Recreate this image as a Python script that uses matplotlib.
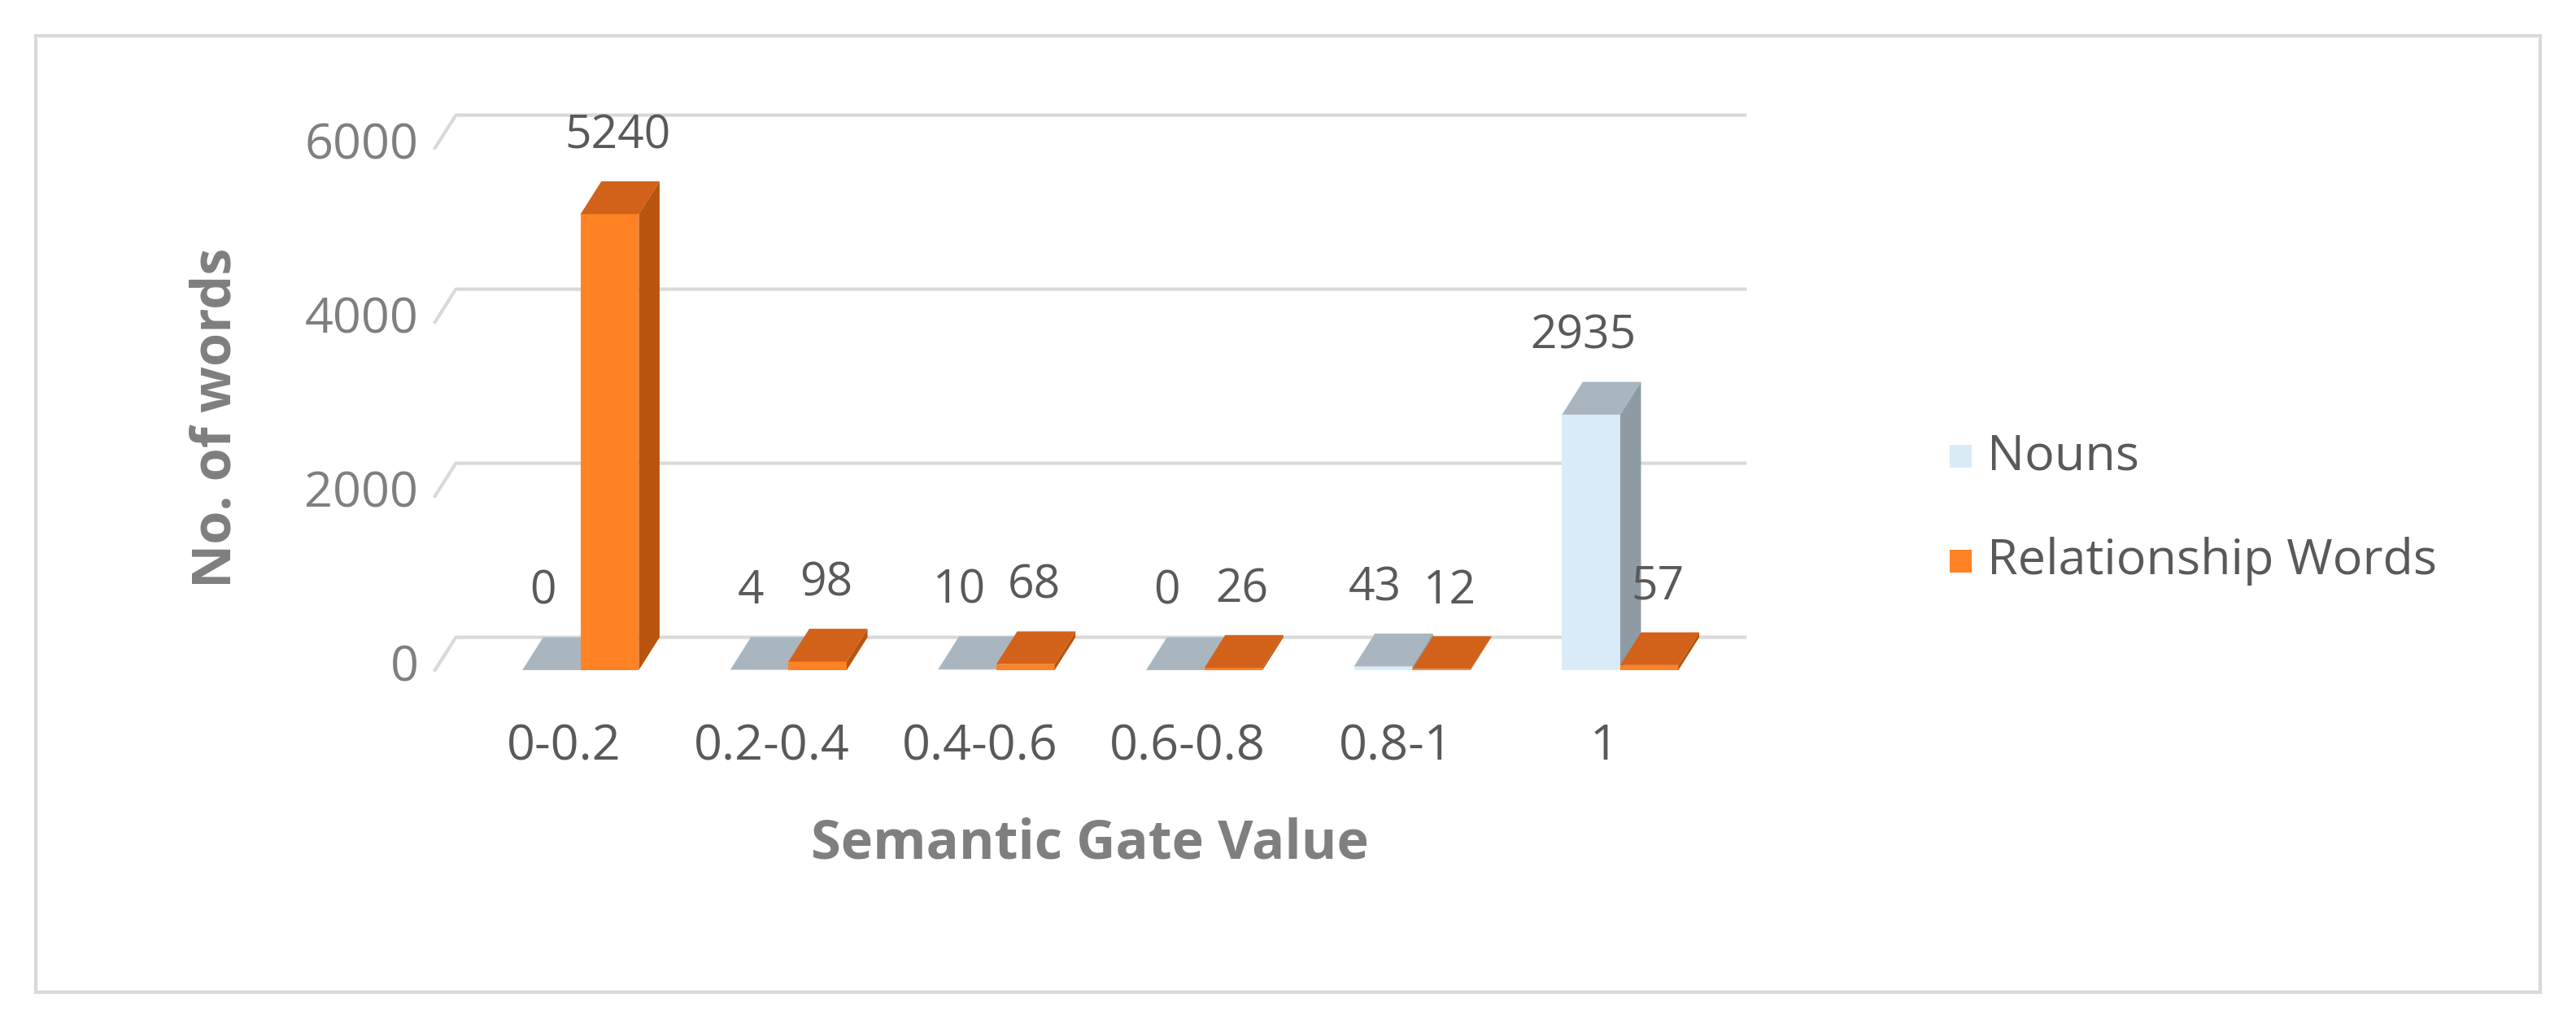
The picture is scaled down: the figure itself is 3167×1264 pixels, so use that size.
import matplotlib
matplotlib.use("Agg")
from matplotlib import pyplot as plt
from matplotlib.patches import Polygon, Rectangle

categories = ["0-0.2", "0.2-0.4", "0.4-0.6", "0.6-0.8", "0.8-1", "1"]
nouns = [0, 4, 10, 0, 43, 2935]
relationship = [5240, 98, 68, 26, 12, 57]
yticks = [0, 2000, 4000, 6000]

plt.rcParams['font.family'] = ['Open Sans', 'DejaVu Sans']
grey = "#595959"

fig = plt.figure(figsize=(31.67, 12.64), dpi=100)
# outer frame
fig.patches.append(Rectangle((0.014, 0.035), 0.972, 0.93, transform=fig.transFigure,
                             fill=False, edgecolor="#D9D9D9", linewidth=3))
ax = fig.add_axes([0.16, 0.313, 0.54, 0.591])
ax.set_xlim(-0.71, 5.98)
ax.set_ylim(-415, 6566)
ax.axis("off")

dx, dy = 0.1, 377
w = 0.28

# gridlines on the back wall, plus floor edge
for t in yticks:
    ax.plot([-0.6, -0.6 + dx, 5.7], [t, t + dy, t + dy], color="#D9D9D9", lw=3, zorder=1)
    ax.text(-0.68, t + 20, str(t), ha="right", va="center", fontsize=44, color="#7F7F7F")


def bar3d(x, h, front, top, side):
    ax.add_patch(Rectangle((x, 0), w, h, facecolor=front, edgecolor="none", zorder=3))
    ax.add_patch(Polygon([(x, h), (x + dx, h + dy), (x + w + dx, h + dy), (x + w, h)],
                         facecolor=top, edgecolor="none", zorder=3))
    ax.add_patch(Polygon([(x + w, 0), (x + w + dx, dy), (x + w + dx, h + dy), (x + w, h)],
                         facecolor=side, edgecolor="none", zorder=3))


for i in range(len(categories)):
    xn = i - w + 0.1
    xr = i + 0.1
    bar3d(xn, nouns[i], "#DAEBF8", "#A9B6C0", "#8E9BA5")
    bar3d(xr, relationship[i], "#FF8225", "#D2621A", "#B9540F")
    ax.text(xn + w / 2 - 0.04, nouns[i] + dy + 250, str(nouns[i]), ha="center", va="bottom",
            fontsize=41, color=grey)
    ax.text(xr + w / 2 + 0.04, relationship[i] + dy + 250, str(relationship[i]), ha="center",
            va="bottom", fontsize=41, color=grey)
    ax.text(i + 0.02, -600, categories[i], ha="center", va="top", fontsize=44, color=grey)

ax.text(2.55, -2000, "Semantic Gate Value", ha="center", va="center", fontsize=48,
        fontweight="bold", color="#7F7F7F")
ax.text(-1.65, 2900, "No. of words", ha="center", va="center", rotation=90, fontsize=48,
        fontweight="bold", color="#7F7F7F")

# legend
fig.patches.append(Rectangle((0.757, 0.545), 0.0085, 0.022, transform=fig.transFigure,
                             facecolor="#DAEBF8"))
fig.patches.append(Rectangle((0.757, 0.443), 0.0085, 0.022, transform=fig.transFigure,
                             facecolor="#FF8225"))
fig.text(0.763 + 0.0085, 0.556, "Nouns", va="center", fontsize=44, color=grey)
fig.text(0.763 + 0.0085, 0.454, "Relationship Words", va="center", fontsize=44, color=grey)

fig.savefig("out.png", dpi=100, facecolor="white")
